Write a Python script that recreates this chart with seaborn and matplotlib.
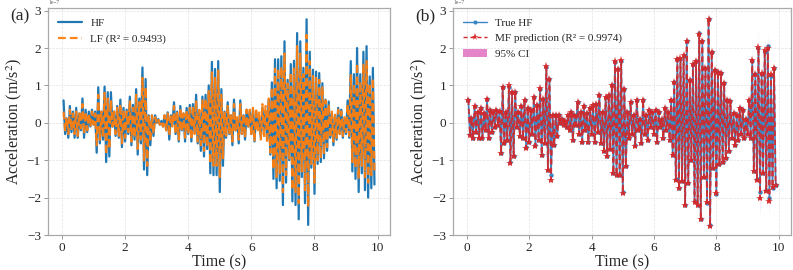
import numpy as np
import pandas as pd
import seaborn as sns
import matplotlib.pyplot as plt
from matplotlib.lines import Line2D
from matplotlib.patches import Patch
from matplotlib.ticker import ScalarFormatter

# ---------------- data (values in units of 1e-7 m/s^2) ----------------
# sampled every 0.05 s from 0.05 s to 9.90 s
time_s = np.round(np.arange(1, 199) * 0.05, 2)

hf = [0.60, -0.30, 0.12, -0.40, 0.45, -0.25, 0.30, -0.40, 0.40, -0.40,
      0.25, -0.20, 0.65, -0.40, 0.35, -0.25, 0.30, -0.10, 0.35, -0.05,
      0.30, -0.80, 0.95, -0.55, 0.30, -0.45, 0.97, -1.05, 0.82, -0.90,
      0.82, -0.10, 0.30, -0.35, 0.45, -0.40, 0.62, -0.65, 0.40, -0.50,
      0.35, -0.30, 0.70, -0.60, 0.48, -0.45, 0.90, -0.85, 0.65, -0.55,
      1.48, -1.25, 1.17, -1.40, 0.20, -0.60, 0.20, -0.35, 0.20, 0.00,
      0.10, -0.05, 0.05, -0.10, 0.20, -0.20, 0.28, -0.45, 0.20, -0.05,
      0.55, -0.30, 0.30, -0.50, 0.45, -0.20, 0.25, -0.50, 0.40, -0.30,
      0.48, -0.50, 0.50, -0.25, 0.75, -0.55, 0.30, -0.75, 0.70, -0.90,
      0.75, -0.70, 1.00, -1.35, 1.63, -1.40, 1.44, -1.40, 1.65, -1.85,
      0.90, -1.15, 0.30, -0.40, 0.55, -0.30, 0.20, -0.60, 0.62, -0.20,
      0.10, -0.55, 0.60, -0.30, 0.20, -0.45, 0.35, -0.10, 0.30, -0.30,
      0.35, -0.50, 0.30, -0.10, 0.10, -0.40, 0.40, -0.20, 0.30, -0.45,
      0.62, -0.85, 1.08, -1.50, 1.70, -1.75, 1.70, -1.55, 1.78, -2.20,
      2.18, -1.60, 1.15, -1.00, 1.57, -2.10, 1.66, -2.20, 2.40, -2.58,
      2.18, -1.45, 1.47, -2.15, 2.77, -2.73, 1.90, -1.20, 1.42, -1.90,
      1.37, -1.10, 1.33, -1.05, 1.06, -0.95, 0.62, -0.75, 0.57, -0.40,
      0.26, -0.60, 0.20, -0.45, 0.40, -0.30, 0.35, -0.40, 0.10, -0.30,
      0.60, -0.40, 1.65, -1.30, 1.30, -1.50, 2.00, -1.85, 1.30, -1.35,
      1.90, -1.80, 2.05, -2.00, 1.24, -1.75, 1.47, -1.65]

lf = [0.30, -0.20, 0.15, -0.30, 0.35, -0.20, 0.25, -0.30, 0.30, -0.35,
      0.25, -0.15, 0.50, -0.30, 0.30, -0.20, 0.25, -0.10, 0.30, -0.05,
      0.25, -0.60, 0.75, -0.45, 0.30, -0.40, 0.80, -0.85, 0.65, -0.70,
      0.60, -0.10, 0.30, -0.30, 0.40, -0.35, 0.50, -0.55, 0.35, -0.40,
      0.30, -0.25, 0.60, -0.50, 0.40, -0.40, 0.75, -0.70, 0.55, -0.45,
      1.20, -1.00, 0.95, -1.15, 0.20, -0.50, 0.20, -0.30, 0.15, 0.00,
      0.10, -0.05, 0.05, -0.10, 0.20, -0.20, 0.25, -0.35, 0.20, -0.10,
      0.45, -0.30, 0.30, -0.45, 0.40, -0.25, 0.25, -0.40, 0.35, -0.30,
      0.40, -0.45, 0.45, -0.30, 0.60, -0.50, 0.35, -0.60, 0.60, -0.75,
      0.65, -0.65, 0.85, -1.10, 1.35, -1.15, 1.20, -1.15, 1.40, -1.45,
      0.75, -0.95, 0.30, -0.35, 0.45, -0.30, 0.25, -0.50, 0.50, -0.20,
      0.15, -0.45, 0.50, -0.30, 0.25, -0.40, 0.35, -0.15, 0.35, -0.35,
      0.40, -0.50, 0.40, -0.25, 0.30, -0.45, 0.50, -0.40, 0.45, -0.55,
      0.65, -0.80, 0.95, -1.25, 1.45, -1.45, 1.45, -1.35, 1.50, -1.85,
      1.85, -1.40, 1.05, -0.95, 1.35, -1.80, 1.45, -1.85, 2.05, -2.15,
      1.85, -1.30, 1.30, -1.80, 2.35, -2.25, 1.65, -1.10, 1.25, -1.60,
      1.20, -1.00, 1.15, -0.95, 0.95, -0.85, 0.60, -0.65, 0.50, -0.40,
      0.30, -0.50, 0.25, -0.40, 0.35, -0.30, 0.30, -0.35, 0.15, -0.25,
      0.50, -0.35, 1.30, -1.05, 1.05, -1.20, 1.60, -1.50, 1.10, -1.15,
      1.55, -1.45, 1.65, -1.60, 1.05, -1.40, 1.20, -1.30]

mf = [0.62, -0.32, 0.12, -0.40, 0.45, -0.25, 0.30, -0.40, 0.40, -0.40,
      0.25, -0.20, 0.65, -0.40, 0.35, -0.25, 0.30, -0.10, 0.35, -0.05,
      0.32, -0.80, 0.95, -0.55, 0.30, -0.45, 1.00, -1.08, 0.82, -0.90,
      0.82, -0.10, 0.30, -0.35, 0.45, -0.40, 0.62, -0.67, 0.40, -0.50,
      0.35, -0.30, 0.70, -0.62, 0.48, -0.45, 0.92, -0.85, 0.65, -0.55,
      1.52, -1.27, 1.17, -1.52, 0.20, -0.60, 0.20, -0.35, 0.20, 0.00,
      0.10, -0.05, 0.05, -0.10, 0.20, -0.20, 0.28, -0.45, 0.20, -0.05,
      0.55, -0.30, 0.30, -0.50, 0.45, -0.20, 0.25, -0.50, 0.40, -0.30,
      0.48, -0.50, 0.50, -0.25, 0.75, -0.55, 0.30, -0.75, 0.70, -0.90,
      0.75, -0.70, 1.00, -1.35, 1.65, -1.40, 1.44, -1.40, 1.67, -1.87,
      0.90, -1.15, 0.30, -0.40, 0.55, -0.30, 0.20, -0.62, 0.62, -0.20,
      0.10, -0.55, 0.60, -0.30, 0.20, -0.45, 0.35, -0.10, 0.30, -0.30,
      0.35, -0.50, 0.30, -0.10, 0.10, -0.40, 0.40, -0.20, 0.30, -0.45,
      0.62, -0.85, 1.08, -1.52, 1.70, -1.75, 1.72, -1.55, 1.80, -2.20,
      2.20, -1.62, 1.15, -1.00, 1.57, -2.12, 1.66, -2.20, 2.38, -2.58,
      2.18, -1.45, 1.47, -2.13, 2.78, -2.75, 1.90, -1.20, 1.42, -1.88,
      1.37, -1.10, 1.33, -1.05, 1.06, -0.95, 0.62, -0.75, 0.57, -0.40,
      0.26, -0.60, 0.20, -0.45, 0.40, -0.30, 0.35, -0.40, 0.10, -0.30,
      0.60, -0.40, 1.67, -1.28, 1.30, -1.52, 2.02, -2.02, 1.32, -1.35,
      1.95, -1.82, 2.00, -2.08, 1.30, -1.72, 1.47, -1.65]

# predictive standard deviation, one value per 0.1 s (two samples)
sd_pairs = [0.03, 0.03, 0.03, 0.03, 0.03, 0.03, 0.03, 0.03, 0.03, 0.03,
            0.04, 0.04, 0.03, 0.05, 0.04, 0.03, 0.03, 0.03, 0.04, 0.03,
            0.03, 0.04, 0.03, 0.05, 0.04, 0.10, 0.12, 0.05, 0.03, 0.03,
            0.03, 0.03, 0.03, 0.03, 0.03, 0.03, 0.03, 0.03, 0.03, 0.03,
            0.03, 0.03, 0.04, 0.04, 0.04, 0.04, 0.05, 0.06, 0.06, 0.08,
            0.05, 0.03, 0.03, 0.03, 0.03, 0.03, 0.03, 0.03, 0.03, 0.03,
            0.03, 0.03, 0.03, 0.03, 0.03, 0.04, 0.05, 0.06, 0.06, 0.07,
            0.07, 0.05, 0.06, 0.06, 0.07, 0.06, 0.06, 0.08, 0.06, 0.06,
            0.05, 0.05, 0.05, 0.04, 0.04, 0.04, 0.04, 0.04, 0.05, 0.05,
            0.08, 0.15, 0.18, 0.25, 0.18, 0.20, 0.22, 0.15, 0.12]

SCALE = 1e-7
df = pd.DataFrame({
    "t": time_s,
    "hf": np.array(hf) * SCALE,
    "lf": np.array(lf) * SCALE,
    "mf": np.array(mf) * SCALE,
    "sd": np.repeat(sd_pairs, 2) * SCALE,
})

# ---------------- style ----------------
sns.set_style("whitegrid")
plt.rcParams['font.family'] = ['Liberation Serif', 'DejaVu Serif']
plt.rcParams['mathtext.fontset'] = 'stix'

BLUE = "#1f77b4"
ORANGE = "#ff7f0e"
RED = "#d62728"
PINK = "#e377c2"

fig = plt.figure(figsize=(7.93, 2.70), dpi=100)
W, H = 793, 270
axA = fig.add_axes([48 / W, 35 / H, 342 / W, 227 / H])
axB = fig.add_axes([453 / W, 35 / H, 338 / W, 227 / H])


def style_axes(ax):
    ax.set_ylim(-3.0e-7, 3.07e-7)
    ax.set_yticks(np.arange(-3, 4) * 1e-7)
    ax.set_xticks([0, 2, 4, 6, 8, 10])
    fmt = ScalarFormatter(useMathText=False)
    fmt.set_powerlimits((0, 0))
    ax.yaxis.set_major_formatter(fmt)
    ax.yaxis.get_offset_text().set_fontsize(4)
    ax.yaxis.get_offset_text().set_color("#666666")
    ax.grid(True, linestyle="--", linewidth=0.5, color="#e2e2e2")
    for s in ax.spines.values():
        s.set_color("#aaaaaa")
        s.set_linewidth(0.9)
    ax.tick_params(axis="both", labelsize=9.5, length=3, width=0.6,
                   color="#888888", pad=2, direction="out")
    ax.tick_params(axis="both", which="both", bottom=True, left=True)
    ax.set_xlabel("Time (s)", fontsize=11.5, labelpad=0)
    ax.set_ylabel("Acceleration (m/s$^{2}$)", fontsize=11.5, labelpad=2)


# ---------------- panel (a) ----------------
sns.lineplot(data=df, x="t", y="hf", ax=axA, color=BLUE, linewidth=1.6,
             label="HF")
sns.lineplot(data=df, x="t", y="lf", ax=axA, color=ORANGE, linewidth=1.6,
             linestyle=(0, (3.5, 1.8)), label="LF (R² = 0.9493)", alpha=0.95)
style_axes(axA)
axA.legend(loc="upper left", frameon=False, fontsize=8,
           handlelength=2.2, handletextpad=0.7, borderaxespad=0.5,
           labelspacing=0.55)

# ---------------- panel (b) ----------------
axB.fill_between(df["t"], df["mf"] - 1.96 * df["sd"], df["mf"] + 1.96 * df["sd"],
                 color=PINK, alpha=0.45, linewidth=0, zorder=1)
sns.lineplot(data=df, x="t", y="hf", ax=axB, color="#3b87c4", linewidth=1.2,
             marker="o", markersize=3.2, markeredgewidth=0, zorder=2)
sns.lineplot(data=df, x="t", y="mf", ax=axB, color=RED, linewidth=1.3,
             linestyle=(0, (3, 2)), marker="*", markersize=6,
             markeredgewidth=0, alpha=0.9, zorder=3)
style_axes(axB)
handles = [
    Line2D([], [], color="#3b87c4", linewidth=1.0, marker="o", markersize=3,
           markeredgewidth=0),
    Line2D([], [], color=RED, linewidth=1.0, linestyle=(0, (3, 2)),
           marker="*", markersize=5.5, markeredgewidth=0),
    Patch(facecolor=PINK, edgecolor="none", alpha=0.9),
]
axB.legend(handles, ["True HF", "MF prediction (R² = 0.9974)", "95% CI"],
           loc="upper left", frameon=False, fontsize=8,
           handlelength=2.2, handletextpad=0.7, borderaxespad=0.5,
           labelspacing=0.5)

fig.text(10 / W, 1 - 16 / H, "(a)", fontsize=12.5, va="center", ha="left")
fig.text(415 / W, 1 - 16 / H, "(b)", fontsize=12.5, va="center", ha="left")

fig.savefig("out.png", dpi=100)
